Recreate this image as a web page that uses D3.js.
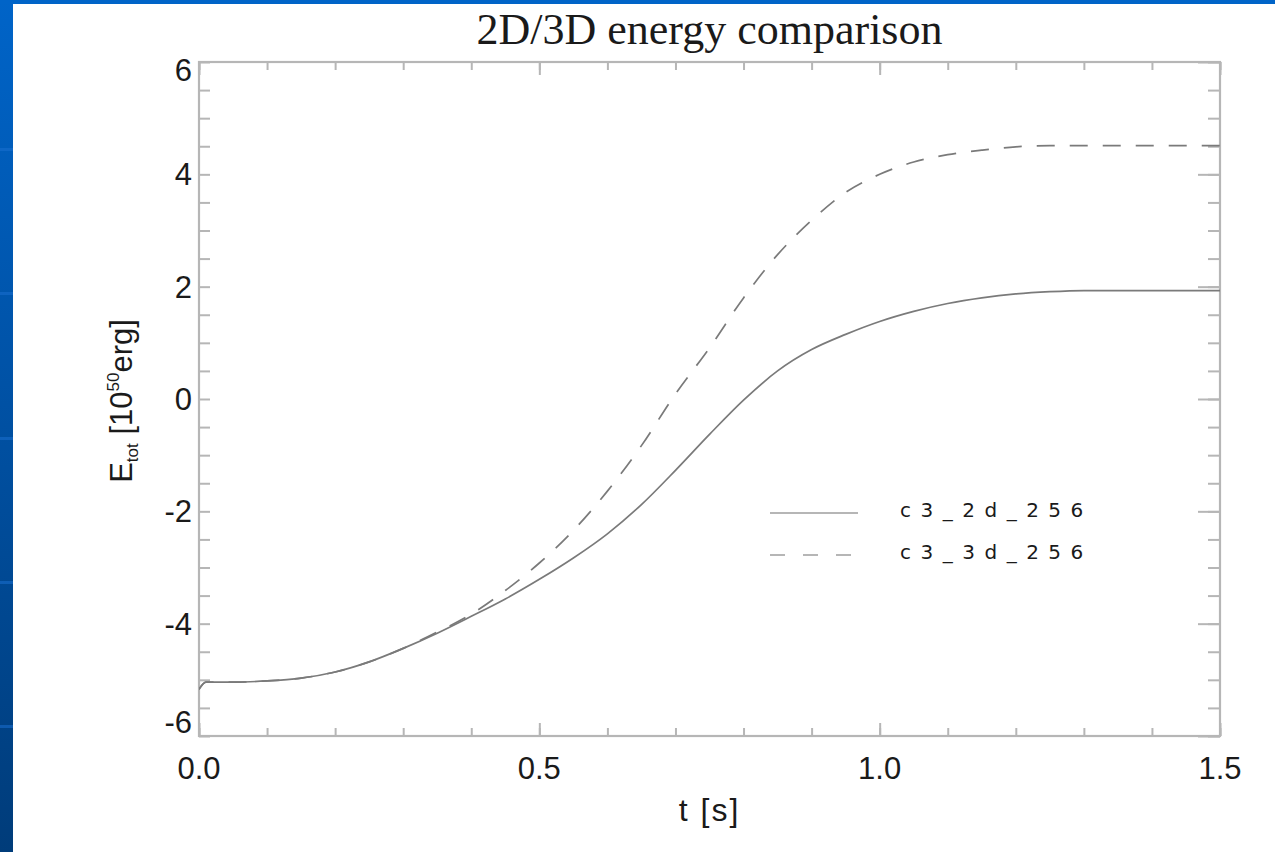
<!DOCTYPE html>
<html>
<head>
<meta charset="utf-8">
<script src="https://cdn.jsdelivr.net/npm/d3@7"></script>
<style>
  html, body { margin: 0; padding: 0; background: #ffffff; }
  svg { display: block; }
</style>
</head>
<body>
<script>
// Time samples [s] shared by both runs
const timeS = [0.00, 0.01, 0.05, 0.10, 0.15, 0.20, 0.25, 0.30, 0.35, 0.40,
               0.45, 0.50, 0.55, 0.60, 0.65, 0.70, 0.75, 0.80, 0.85, 0.90,
               0.95, 1.00, 1.05, 1.10, 1.15, 1.20, 1.25, 1.30, 1.35, 1.40,
               1.45, 1.50];
// Total energy [10^50 erg], 2D run
const energy2d = [-5.17, -5.04, -5.04, -5.02, -4.97, -4.86, -4.68, -4.44, -4.17, -3.87,
                  -3.56, -3.21, -2.83, -2.40, -1.88, -1.27, -0.63, -0.02, 0.50, 0.88,
                  1.15, 1.38, 1.56, 1.70, 1.80, 1.87, 1.91, 1.93, 1.93, 1.93,
                  1.93, 1.93];
// Total energy [10^50 erg], 3D run
const energy3d = [-5.17, -5.04, -5.04, -5.02, -4.97, -4.86, -4.68, -4.44, -4.15, -3.83,
                  -3.41, -2.92, -2.34, -1.64, -0.83, 0.09, 0.91, 1.80, 2.57, 3.18,
                  3.68, 4.00, 4.22, 4.35, 4.43, 4.49, 4.51, 4.51, 4.51, 4.51,
                  4.51, 4.51];
const seriesNames = ["c3_2d_256", "c3_3d_256"];
const xTickValues = [0, 0.5, 1.0, 1.5];
const xTickLabels = ["0.0", "0.5", "1.0", "1.5"];
const yTickValues = [-6, -4, -2, 0, 2, 4, 6];
const yTickLabels = ["-6", "-4", "-2", "0", "2", "4", "6"];
const titleText = "2D/3D energy comparison";

const W = 1275, H = 852;
const plot = { left: 199, right: 1220, top: 62, bottom: 736 };
const axisColor = "#b6b6b6";
const lineColor = "#7a7a7a";
const textColor = "#1a1a1a";
const sans = "'Liberation Sans', Arial, Helvetica, sans-serif";
const serif = "'Liberation Serif', 'Times New Roman', serif";

const svg = d3.select("body").append("svg")
  .attr("width", W).attr("height", H);

// slide frame: blue gradient strip on the left, thin blue band on top
const defs = svg.append("defs");
const grad = defs.append("linearGradient").attr("id", "sideGrad")
  .attr("x1", 0).attr("y1", 0).attr("x2", 0).attr("y2", 1);
grad.append("stop").attr("offset", "0%").attr("stop-color", "#0064c8");
grad.append("stop").attr("offset", "45%").attr("stop-color", "#0052a6");
grad.append("stop").attr("offset", "100%").attr("stop-color", "#003c7a");

svg.append("rect").attr("width", W).attr("height", H).attr("fill", "#ffffff");
svg.append("rect").attr("x", 0).attr("y", 0).attr("width", 13).attr("height", H)
  .attr("fill", "url(#sideGrad)");
svg.append("rect").attr("x", 0).attr("y", 0).attr("width", W).attr("height", 4)
  .attr("fill", "#0064c8");
[148, 292, 437, 581, 725].forEach(yy => {
  svg.append("rect").attr("x", 0).attr("y", yy).attr("width", 13).attr("height", 3)
    .attr("fill", "#1a6fd0").attr("opacity", 0.55);
});

const x = d3.scaleLinear().domain([0, 1.5]).range([plot.left, plot.right]);
const y = d3.scaleLinear().domain([-6, 6]).range([plot.bottom, plot.top]);

const xMinor = d3.range(0, 1.5001, 0.1).map(v => +v.toFixed(2));
const yMinor = d3.range(-6, 6.001, 0.5).map(v => +v.toFixed(2));

function styleAxis(g) {
  g.select(".domain").remove();
  g.selectAll(".tick line").attr("stroke", axisColor).attr("stroke-width", 2);
  g.selectAll(".tick text").remove();
}

// bottom & top axes (ticks pointing inward)
svg.append("g").attr("transform", `translate(0,${plot.bottom})`)
  .call(d3.axisBottom(x).tickValues(xMinor).tickSize(-8).tickFormat(""))
  .call(styleAxis);
svg.append("g").attr("transform", `translate(0,${plot.bottom})`)
  .call(d3.axisBottom(x).tickValues(xTickValues).tickSize(-13).tickFormat(""))
  .call(styleAxis);
svg.append("g").attr("transform", `translate(0,${plot.top})`)
  .call(d3.axisTop(x).tickValues(xMinor).tickSize(-8).tickFormat(""))
  .call(styleAxis);
svg.append("g").attr("transform", `translate(0,${plot.top})`)
  .call(d3.axisTop(x).tickValues(xTickValues).tickSize(-13).tickFormat(""))
  .call(styleAxis);

// left & right axes
svg.append("g").attr("transform", `translate(${plot.left},0)`)
  .call(d3.axisLeft(y).tickValues(yMinor).tickSize(-11).tickFormat(""))
  .call(styleAxis);
svg.append("g").attr("transform", `translate(${plot.right},0)`)
  .call(d3.axisRight(y).tickValues(yMinor).tickSize(-12).tickFormat(""))
  .call(styleAxis);
svg.append("g").attr("transform", `translate(${plot.right},0)`)
  .call(d3.axisRight(y).tickValues(yTickValues).tickSize(-22).tickFormat(""))
  .call(styleAxis);

// frame
svg.append("rect")
  .attr("x", plot.left).attr("y", plot.top)
  .attr("width", plot.right - plot.left).attr("height", plot.bottom - plot.top)
  .attr("fill", "none").attr("stroke", axisColor).attr("stroke-width", 2.2);

// tick labels
svg.append("g").selectAll("text").data(xTickValues).join("text")
  .attr("x", d => x(d)).attr("y", 779)
  .attr("text-anchor", "middle")
  .attr("font-family", sans).attr("font-size", 31).attr("fill", textColor)
  .text((d, i) => xTickLabels[i]);

svg.append("g").selectAll("text").data(yTickValues).join("text")
  .attr("x", 192)
  .attr("y", d => y(d) + (d === 6 ? 8 : d === -6 ? -14 : 0))
  .attr("dy", "0.36em")
  .attr("text-anchor", "end")
  .attr("font-family", sans).attr("font-size", 31).attr("fill", textColor)
  .text((d, i) => yTickLabels[i]);

// title
svg.append("text")
  .attr("x", (plot.left + plot.right) / 2).attr("y", 44)
  .attr("text-anchor", "middle")
  .attr("font-family", serif).attr("font-size", 44).attr("fill", textColor)
  .text(titleText);

// axis titles
svg.append("text")
  .attr("x", (plot.left + plot.right) / 2).attr("y", 821)
  .attr("text-anchor", "middle")
  .attr("font-family", sans).attr("font-size", 32).attr("letter-spacing", "2px")
  .attr("fill", textColor)
  .text("t [s]");

const yl = svg.append("text")
  .attr("transform", `translate(132,${(plot.top + plot.bottom) / 2 + 2}) rotate(-90)`)
  .attr("text-anchor", "middle")
  .attr("font-family", sans).attr("font-size", 31).attr("fill", textColor);
yl.append("tspan").text("E");
yl.append("tspan").attr("font-size", 17).attr("dy", 6).text("tot");
yl.append("tspan").attr("dy", -6).text(" [10");
yl.append("tspan").attr("font-size", 17).attr("dy", -13).text("50");
yl.append("tspan").attr("dy", 13).text("erg]");

// curves
defs.append("clipPath").attr("id", "plotClip").append("rect")
  .attr("x", plot.left).attr("y", plot.top)
  .attr("width", plot.right - plot.left).attr("height", plot.bottom - plot.top);

const line = d3.line()
  .x(d => x(d[0])).y(d => y(d[1]))
  .curve(d3.curveMonotoneX);

const curves = svg.append("g").attr("clip-path", "url(#plotClip)");
curves.append("path")
  .datum(timeS.map((t, i) => [t, energy3d[i]]))
  .attr("d", line).attr("fill", "none")
  .attr("stroke", lineColor).attr("stroke-width", 1.7)
  .attr("stroke-dasharray", "18,15");
curves.append("path")
  .datum(timeS.map((t, i) => [t, energy2d[i]]))
  .attr("d", line).attr("fill", "none")
  .attr("stroke", lineColor).attr("stroke-width", 1.7);

// legend
const legend = svg.append("g");
const legendRows = [{ y: 513, dash: null }, { y: 555, dash: "15,18" }];
legendRows.forEach((r, i) => {
  legend.append("line")
    .attr("x1", 770).attr("x2", 858).attr("y1", r.y).attr("y2", r.y)
    .attr("stroke", axisColor).attr("stroke-width", 2.2)
    .attr("stroke-dasharray", r.dash);
  legend.append("text")
    .attr("x", 900).attr("y", r.y + 4)
    .attr("font-family", "'DejaVu Sans', sans-serif").attr("font-size", 20)
    .attr("letter-spacing", "9.5px").attr("fill", textColor)
    .text(seriesNames[i]);
});
</script>
</body>
</html>
